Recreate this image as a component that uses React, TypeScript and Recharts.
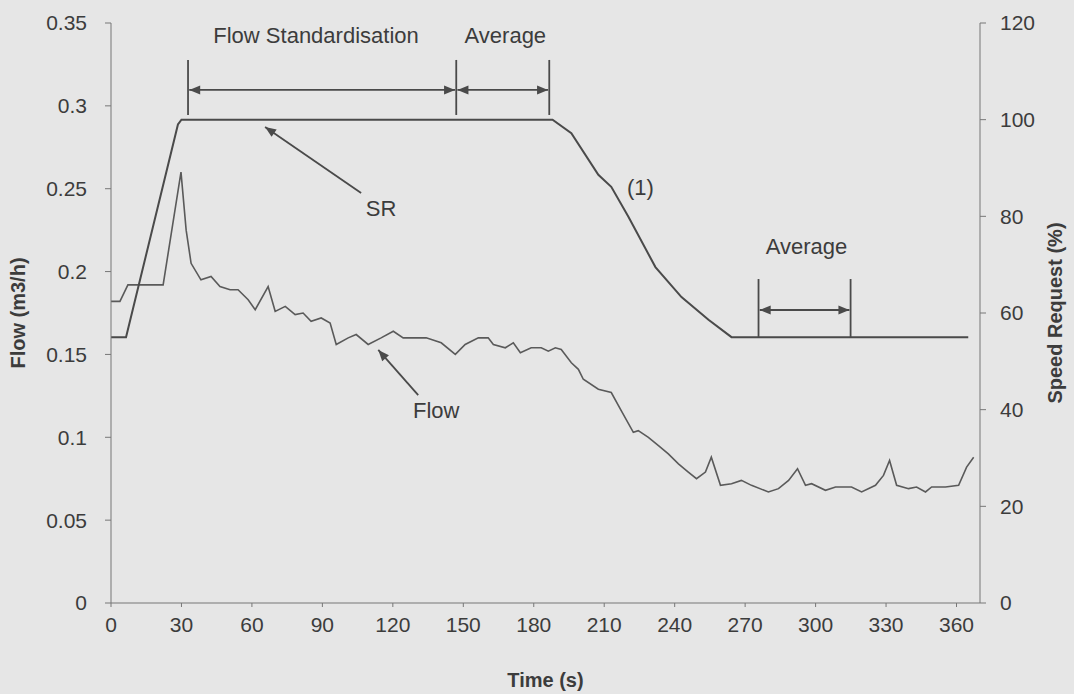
import React from "react";
import {
  ComposedChart,
  Line,
  XAxis,
  YAxis,
  ReferenceLine,
  ReferenceDot,
  Label,
} from "recharts";

// Flow trace (left axis, m3/h)
const flowTime = [
  0, 3.8, 7.2, 22.2, 29.8, 32, 34.1, 38.3, 42.6, 46.4, 50.7, 54.1, 58.4, 61.4,
  66.9, 69.9, 74.2, 78.4, 81.8, 85.2, 89.5, 93.3, 95.9, 101, 104.4, 109.5, 115,
  120.2, 124.4, 129.5, 134.2, 140.6, 146.6, 150.8, 156.4, 160.6, 162.8, 167.9,
  171.3, 174.3, 178.9, 183.2, 186.2, 189.2, 191.7, 196, 199, 201.1, 207.5, 213,
  217.3, 222.4, 224.5, 228.8, 233.1, 237.3, 241.6, 245.8, 249.3, 253.1, 255.6,
  259.5, 264.2, 268.4, 272.7, 279.9, 284.2, 288.5, 292.3, 295.7, 298.3, 304.2,
  308.5, 315.3, 319.6, 325.5, 328.9, 331.5, 334.5, 339.6, 343, 346.8, 349.4,
  355.3, 360.9, 364.3, 367.3,
];
const flowValue = [
  0.182, 0.182, 0.192, 0.192, 0.26, 0.225, 0.205, 0.195, 0.197, 0.191, 0.189,
  0.189, 0.183, 0.177, 0.191, 0.176, 0.179, 0.174, 0.175, 0.17, 0.172, 0.169,
  0.156, 0.16, 0.162, 0.156, 0.16, 0.164, 0.16, 0.16, 0.16, 0.157, 0.15, 0.156,
  0.16, 0.16, 0.156, 0.154, 0.157, 0.151, 0.154, 0.154, 0.152, 0.154, 0.153,
  0.145, 0.141, 0.135, 0.129, 0.127, 0.116, 0.103, 0.104, 0.1, 0.095, 0.09,
  0.084, 0.079, 0.075, 0.079, 0.088, 0.071, 0.072, 0.074, 0.071, 0.067, 0.069,
  0.074, 0.081, 0.071, 0.072, 0.068, 0.07, 0.07, 0.067, 0.071, 0.077, 0.086,
  0.071, 0.069, 0.07, 0.067, 0.07, 0.07, 0.071, 0.082, 0.088,
];

// Speed request trace (right axis, %)
const srTime = [0, 6.4, 28.5, 30, 188, 196, 207.5, 213, 220.3, 231.8, 242.9, 254.4, 264.2, 365];
const srValue = [55, 55, 99, 100, 100, 97.2, 88.6, 86.1, 79.9, 69.5, 63.3, 58.6, 55, 55];

const xTicks = [0, 30, 60, 90, 120, 150, 180, 210, 240, 270, 300, 330, 360];
const flowTicks = [0, 0.05, 0.1, 0.15, 0.2, 0.25, 0.3, 0.35];
const srTicks = [0, 20, 40, 60, 80, 100, 120];

// Annotation markers (time values)
const intervalBars = [32.8, 147, 186.6];
const averageBars = [275.7, 314.9];

const flowData = flowTime.map((t, i) => ({ t, flow: flowValue[i] }));
const srData = srTime.map((t, i) => ({ t, sr: srValue[i] }));

const INK = "#4a4a4a";
const TEXT = "#3c3c3c";
const FONT = "'Liberation Sans', Arial, sans-serif";

function arrowShape(both: boolean) {
  return (p: any) => {
    const { x1, y1, x2, y2 } = p;
    const a = Math.atan2(y2 - y1, x2 - x1);
    const head = (x: number, y: number, ang: number) => {
      const L = 11;
      const W = 4.5;
      const bx = x - L * Math.cos(ang);
      const by = y - L * Math.sin(ang);
      const px = -Math.sin(ang) * W;
      const py = Math.cos(ang) * W;
      return `${x},${y} ${bx + px},${by + py} ${bx - px},${by - py}`;
    };
    return (
      <g>
        <line x1={x1} y1={y1} x2={x2} y2={y2} stroke={INK} strokeWidth={1.8} />
        <polygon points={head(x2, y2, a)} fill={INK} />
        {both && <polygon points={head(x1, y1, a + Math.PI)} fill={INK} />}
      </g>
    );
  };
}

function note(x: number, y: number, text: string) {
  return (
    <ReferenceDot
      key={text + x}
      x={x}
      y={y}
      yAxisId="left"
      r={1}
      fill="none"
      stroke="none"
      label={{ value: text, position: "center", fill: TEXT, fontSize: 22, fontFamily: FONT }}
    />
  );
}

export default function App() {
  return (
    <div
      style={{
        position: "absolute",
        left: 0,
        top: 0,
        width: 1074,
        height: 694,
        background: "#e6e6e6",
        fontFamily: FONT,
      }}
    >
      <ComposedChart width={1074} height={694} margin={{ top: 23, right: 0, bottom: 0, left: 0 }}>
        <XAxis
          dataKey="t"
          type="number"
          domain={[0, 370]}
          ticks={xTicks}
          allowDataOverflow
          height={91}
          tick={{ fill: TEXT, fontSize: 21, fontFamily: FONT }}
          tickSize={4}
          tickMargin={10}
          axisLine={{ stroke: "#777" }}
          tickLine={{ stroke: "#777" }}
        >
          <Label
            content={({ viewBox }: any) => (
              <text
                x={viewBox.x + viewBox.width / 2}
                y={viewBox.y + 77}
                textAnchor="middle"
                dominantBaseline="central"
                fill={TEXT}
                fontSize={20}
                fontWeight="bold"
                fontFamily={FONT}
              >
                Time (s)
              </text>
            )}
          />
        </XAxis>
        <YAxis
          yAxisId="left"
          domain={[0, 0.35]}
          ticks={flowTicks}
          width={111}
          tick={{ fill: TEXT, fontSize: 21, fontFamily: FONT }}
          tickSize={6}
          tickMargin={18}
          axisLine={{ stroke: "#777" }}
          tickLine={{ stroke: "#777" }}
        >
          <Label
            content={({ viewBox }: any) => {
              const x = 18;
              const y = viewBox.y + viewBox.height / 2;
              return (
                <text
                  x={x}
                  y={y}
                  transform={`rotate(-90 ${x} ${y})`}
                  textAnchor="middle"
                  dominantBaseline="central"
                  fill={TEXT}
                  fontSize={20}
                  fontWeight="bold"
                  fontFamily={FONT}
                >
                  Flow (m3/h)
                </text>
              );
            }}
          />
        </YAxis>
        <YAxis
          yAxisId="right"
          orientation="right"
          domain={[0, 120]}
          ticks={srTicks}
          width={94}
          tick={{ fill: TEXT, fontSize: 21, fontFamily: FONT }}
          tickSize={6}
          tickMargin={14}
          axisLine={{ stroke: "#777" }}
          tickLine={{ stroke: "#777" }}
        >
          <Label
            content={({ viewBox }: any) => {
              const x = viewBox.x + 75;
              const y = viewBox.y + viewBox.height / 2;
              return (
                <text
                  x={x}
                  y={y}
                  transform={`rotate(-90 ${x} ${y})`}
                  textAnchor="middle"
                  dominantBaseline="central"
                  fill={TEXT}
                  fontSize={20}
                  fontWeight="bold"
                  fontFamily={FONT}
                >
                  Speed Request (%)
                </text>
              );
            }}
          />
        </YAxis>

        <Line
          data={flowData}
          dataKey="flow"
          yAxisId="left"
          type="linear"
          stroke="#5a5a5a"
          strokeWidth={1.6}
          dot={false}
          isAnimationActive={false}
        />
        <Line
          data={srData}
          dataKey="sr"
          yAxisId="right"
          type="linear"
          stroke={INK}
          strokeWidth={2}
          dot={false}
          isAnimationActive={false}
        />

        {intervalBars.map((t) => (
          <ReferenceLine
            key={"ib" + t}
            yAxisId="left"
            segment={[
              { x: t, y: 0.2945 },
              { x: t, y: 0.3277 },
            ]}
            stroke={INK}
            strokeWidth={1.8}
          />
        ))}
        {averageBars.map((t) => (
          <ReferenceLine
            key={"ab" + t}
            yAxisId="left"
            segment={[
              { x: t, y: 0.16 },
              { x: t, y: 0.1955 },
            ]}
            stroke={INK}
            strokeWidth={1.8}
          />
        ))}
        <ReferenceLine
          yAxisId="left"
          segment={[
            { x: intervalBars[0] + 0.5, y: 0.3096 },
            { x: intervalBars[1] - 0.5, y: 0.3096 },
          ]}
          shape={arrowShape(true)}
        />
        <ReferenceLine
          yAxisId="left"
          segment={[
            { x: intervalBars[1] + 0.5, y: 0.3096 },
            { x: intervalBars[2] - 0.5, y: 0.3096 },
          ]}
          shape={arrowShape(true)}
        />
        <ReferenceLine
          yAxisId="left"
          segment={[
            { x: averageBars[0] + 0.5, y: 0.1768 },
            { x: averageBars[1] - 0.5, y: 0.1768 },
          ]}
          shape={arrowShape(true)}
        />
        <ReferenceLine
          yAxisId="left"
          segment={[
            { x: 106.5, y: 0.2474 },
            { x: 65.6, y: 0.2873 },
          ]}
          shape={arrowShape(false)}
        />
        <ReferenceLine
          yAxisId="left"
          segment={[
            { x: 130.8, y: 0.1255 },
            { x: 113.8, y: 0.1527 },
          ]}
          shape={arrowShape(false)}
        />

        {note(87.3, 0.3428, "Flow Standardisation")}
        {note(167.9, 0.3428, "Average")}
        {note(115, 0.2384, "SR")}
        {note(225.4, 0.2511, "(1)")}
        {note(296.1, 0.2155, "Average")}
        {note(138.5, 0.1165, "Flow")}
      </ComposedChart>
    </div>
  );
}
